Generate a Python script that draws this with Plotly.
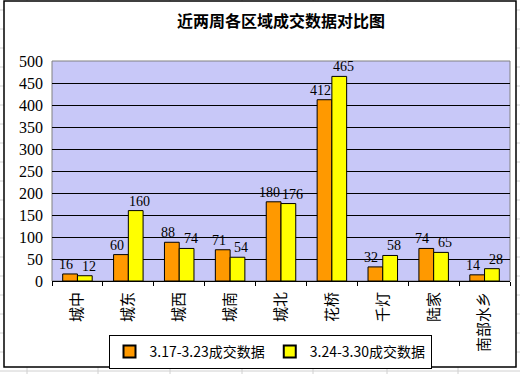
import plotly.graph_objects as go

categories = ["城中", "城东", "城西", "城南", "城北", "花桥", "千灯", "陆家", "南部水乡"]
week1_name = "3.17-3.23成交数据"
week2_name = "3.24-3.30成交数据"
week1 = [16, 60, 88, 71, 180, 412, 32, 74, 14]
week2 = [12, 160, 74, 54, 176, 465, 58, 65, 28]
y_ticks = [0, 50, 100, 150, 200, 250, 300, 350, 400, 450, 500]

W, H = 520, 374
L, R, T, B = 52, 10, 61, 93
pw, ph = W - L - R, H - T - B
BARGAP = 0.42

def px(x):
    return (x - L) / pw

def py(y):
    return (H - B - y) / ph

num_font = "Liberation Serif, Noto Sans CJK SC"
cjk_font = "Noto Sans CJK SC"

fig = go.Figure()
fig.add_trace(go.Bar(
    name=week1_name, x=categories, y=week1,
    marker=dict(color="#FF9900", line=dict(color="black", width=1)),
))
fig.add_trace(go.Bar(
    name=week2_name, x=categories, y=week2,
    marker=dict(color="#FFFF00", line=dict(color="black", width=1)),
))

# data labels, positioned over each bar via the axis scale
half = (1 - BARGAP) / 4
annotations = []
for i, (a, b) in enumerate(zip(week1, week2)):
    annotations.append(dict(x=i - half, y=a, xref="x", yref="y", text=str(a),
                            showarrow=False, yanchor="bottom", xshift=-4, yshift=0,
                            font=dict(family=num_font, size=14, color="black")))
    annotations.append(dict(x=i + half, y=b, xref="x", yref="y", text=str(b),
                            showarrow=False, yanchor="bottom", xshift=4, yshift=0,
                            font=dict(family=num_font, size=14, color="black")))

shapes = []
# spreadsheet gridlines behind the chart
gy = 10
while gy < H:
    shapes.append(dict(type="line", xref="paper", yref="paper", layer="below",
                       x0=px(0), x1=px(W), y0=py(gy), y1=py(gy),
                       line=dict(color="#D0D0D0", width=1)))
    gy += 19
for gx in [27, 98, 170, 242, 313, 387, 458]:
    shapes.append(dict(type="line", xref="paper", yref="paper", layer="below",
                       x0=px(gx), x1=px(gx), y0=py(0), y1=py(H),
                       line=dict(color="#D0D0D0", width=1)))
# chart area (white with black border)
shapes.append(dict(type="rect", xref="paper", yref="paper", layer="below",
                   x0=px(4), x1=px(516), y0=py(1), y1=py(367),
                   fillcolor="white", line=dict(color="black", width=1.5)))
# plot area
shapes.append(dict(type="rect", xref="paper", yref="paper", layer="below",
                   x0=0, x1=1, y0=0, y1=1,
                   fillcolor="#C8C8F8", line=dict(color="#808080", width=1)))

fig.update_layout(
    width=W, height=H,
    margin=dict(l=L, r=R, t=T, b=B, autoexpand=False),
    paper_bgcolor="white",
    plot_bgcolor="rgba(0,0,0,0)",
    barmode="group",
    bargap=BARGAP,
    bargroupgap=0,
    shapes=shapes,
    annotations=annotations,
    title=dict(text="<b>近两周各区域成交数据对比图</b>", x=0.5, xanchor="center",
               xref="paper", y=1 - 21 / H, yanchor="middle",
               font=dict(family=cjk_font, size=16, color="black")),
    legend=dict(orientation="h", x=px(270), xanchor="center",
                y=py(335), yanchor="top",
                bordercolor="black", borderwidth=1, bgcolor="white",
                font=dict(family=cjk_font, size=14, color="black"),
                itemwidth=30, itemsizing="constant"),
    showlegend=True,
)
fig.update_xaxes(
    tickangle=-90, showgrid=False, showline=True, linecolor="black",
    ticks="outside", ticklen=4, tickcolor="black", tickson="boundaries",
    ticklabelstandoff=4,
    tickfont=dict(family=cjk_font, size=15, color="black"),
    automargin=False,
)
fig.update_yaxes(
    range=[0, 500], tickvals=y_ticks, showgrid=True, gridcolor="black",
    gridwidth=1, showline=False, zeroline=False, ticks="",
    ticklabelstandoff=8,
    tickfont=dict(family=num_font, size=16, color="black"),
    automargin=False,
)

fig.write_html("out.html", post_script="document.body.style.margin='0';",
               config={"displayModeBar": False})
